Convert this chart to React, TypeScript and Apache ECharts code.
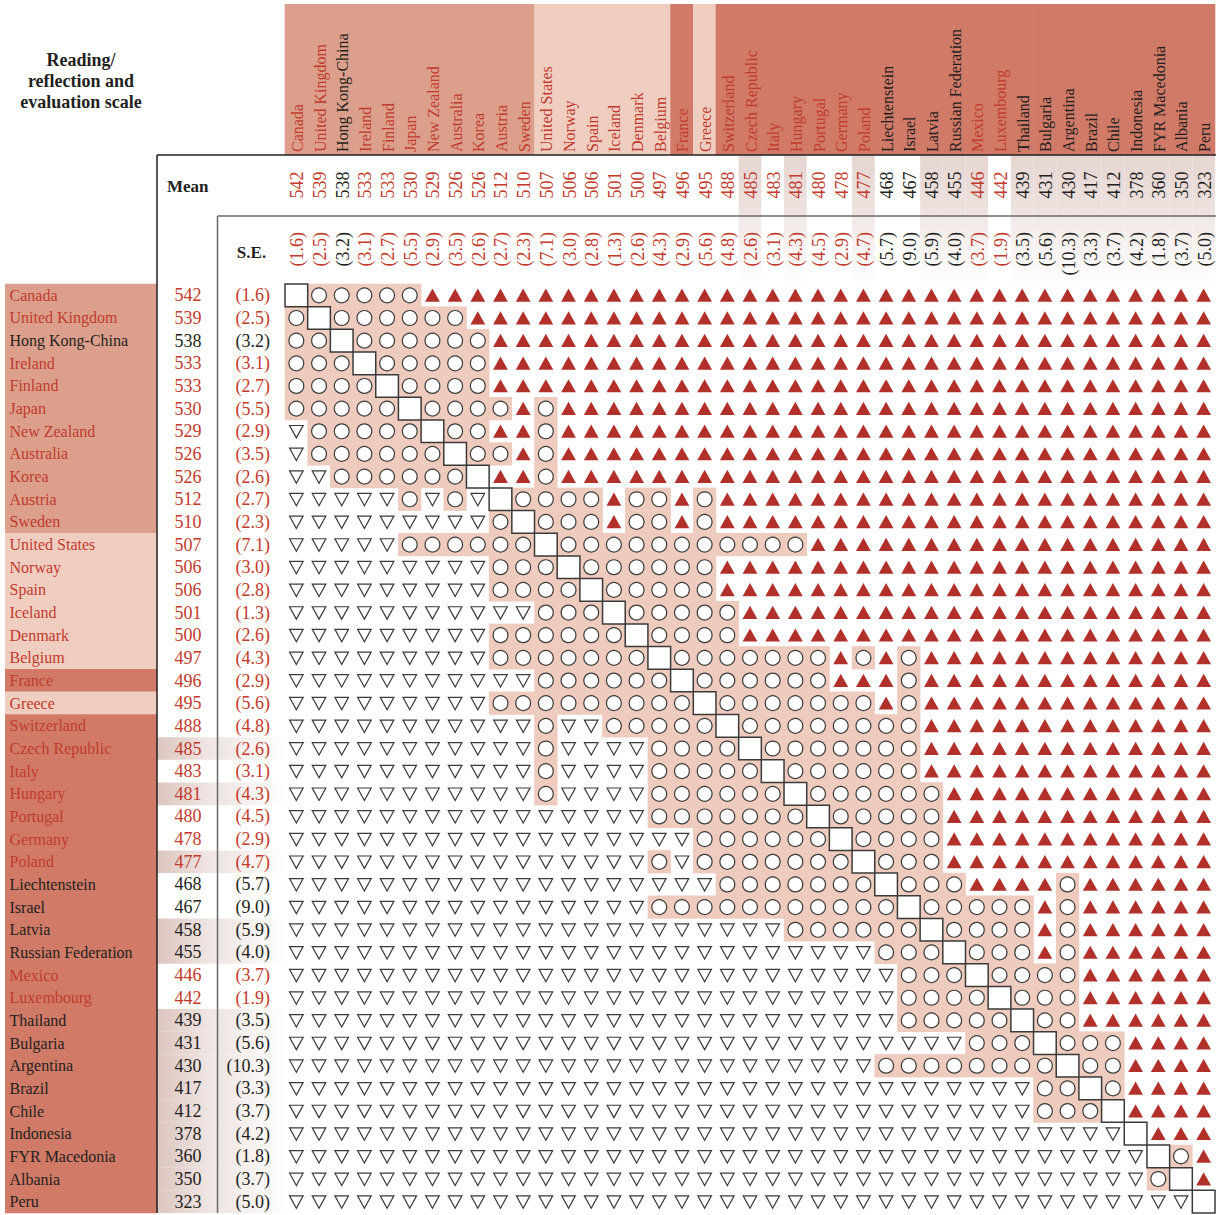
import React, { useEffect, useRef } from "react";
import * as echarts from "echarts";

const countries = [
  "Canada", "United Kingdom", "Hong Kong-China", "Ireland", "Finland", "Japan", "New Zealand",
  "Australia", "Korea", "Austria", "Sweden", "United States", "Norway", "Spain", "Iceland",
  "Denmark", "Belgium", "France", "Greece", "Switzerland", "Czech Republic", "Italy", "Hungary",
  "Portugal", "Germany", "Poland", "Liechtenstein", "Israel", "Latvia", "Russian Federation",
  "Mexico", "Luxembourg", "Thailand", "Bulgaria", "Argentina", "Brazil", "Chile", "Indonesia",
  "FYR Macedonia", "Albania", "Peru",
];

const meanScores = [
  542, 539, 538, 533, 533, 530, 529, 526, 526, 512, 510, 507, 506, 506, 501, 500, 497, 496, 495,
  488, 485, 483, 481, 480, 478, 477, 468, 467, 458, 455, 446, 442, 439, 431, 430, 417, 412, 378,
  360, 350, 323,
];

const standardErrors = [
  1.6, 2.5, 3.2, 3.1, 2.7, 5.5, 2.9, 3.5, 2.6, 2.7, 2.3, 7.1, 3.0, 2.8, 1.3, 2.6, 4.3, 2.9, 5.6,
  4.8, 2.6, 3.1, 4.3, 4.5, 2.9, 4.7, 5.7, 9.0, 5.9, 4.0, 3.7, 1.9, 3.5, 5.6, 10.3, 3.3, 3.7, 4.2,
  1.8, 3.7, 5.0,
];

const nonOecdCountries = [
  "Hong Kong-China", "Liechtenstein", "Israel", "Latvia", "Russian Federation", "Thailand",
  "Bulgaria", "Argentina", "Brazil", "Chile", "Indonesia", "FYR Macedonia", "Albania", "Peru",
];

const aboveOecdAverage = [
  "Canada", "United Kingdom", "Hong Kong-China", "Ireland", "Finland", "Japan", "New Zealand",
  "Australia", "Korea", "Austria", "Sweden",
];

const atOecdAverage = ["United States", "Norway", "Spain", "Iceland", "Denmark", "Belgium", "Greece"];

const shadedRows = [
  "Czech Republic", "Hungary", "Poland", "Latvia", "Russian Federation", "Thailand", "Bulgaria",
  "Argentina", "Brazil", "Chile", "Indonesia", "FYR Macedonia", "Albania", "Peru",
];

const shadedColumns = [
  "Czech Republic", "Hungary", "Poland", "Latvia", "Russian Federation", "Mexico", "Thailand",
  "Bulgaria", "Argentina", "Brazil", "Chile", "Indonesia", "FYR Macedonia", "Albania", "Peru",
];

// v = significantly lower, o = no significant difference, ^ = significantly higher, x = same country
const comparisonRows = [
  "xoooo o^^^^ ^^^^^ ^^^^^ ^^^^^ ^^^^^ ^^^^^ ^^^^^ ^",
  "oxooo ooo^^ ^^^^^ ^^^^^ ^^^^^ ^^^^^ ^^^^^ ^^^^^ ^",
  "ooxoo oooo^ ^^^^^ ^^^^^ ^^^^^ ^^^^^ ^^^^^ ^^^^^ ^",
  "oooxo oooo^ ^^^^^ ^^^^^ ^^^^^ ^^^^^ ^^^^^ ^^^^^ ^",
  "oooox oooo^ ^^^^^ ^^^^^ ^^^^^ ^^^^^ ^^^^^ ^^^^^ ^",
  "ooooo xoooo ^o^^^ ^^^^^ ^^^^^ ^^^^^ ^^^^^ ^^^^^ ^",
  "voooo oxoo^ ^o^^^ ^^^^^ ^^^^^ ^^^^^ ^^^^^ ^^^^^ ^",
  "voooo ooxoo ^o^^^ ^^^^^ ^^^^^ ^^^^^ ^^^^^ ^^^^^ ^",
  "vvooo ooox^ ^o^^^ ^^^^^ ^^^^^ ^^^^^ ^^^^^ ^^^^^ ^",
  "vvvvv ovovx oooo^ oo^o^ ^^^^^ ^^^^^ ^^^^^ ^^^^^ ^",
  "vvvvv vvvvo xooo^ oo^o^ ^^^^^ ^^^^^ ^^^^^ ^^^^^ ^",
  "vvvvv ooooo oxooo ooooo ooo^^ ^^^^^ ^^^^^ ^^^^^ ^",
  "vvvvv vvvvo ooxoo oooo^ ^^^^^ ^^^^^ ^^^^^ ^^^^^ ^",
  "vvvvv vvvvo oooxo oooo^ ^^^^^ ^^^^^ ^^^^^ ^^^^^ ^",
  "vvvvv vvvvv vooox ooooo ^^^^^ ^^^^^ ^^^^^ ^^^^^ ^",
  "vvvvv vvvvo ooooo xoooo ^^^^^ ^^^^^ ^^^^^ ^^^^^ ^",
  "vvvvv vvvvo ooooo oxooo oooo^ o^o^^ ^^^^^ ^^^^^ ^",
  "vvvvv vvvvv voooo ooxoo oooo^ ^^o^^ ^^^^^ ^^^^^ ^",
  "vvvvv vvvvo ooooo oooxo ooooo o^o^^ ^^^^^ ^^^^^ ^",
  "vvvvv vvvvv vovvo oooox ooooo ooo^^ ^^^^^ ^^^^^ ^",
  "vvvvv vvvvv vovvv voooo xoooo ooo^^ ^^^^^ ^^^^^ ^",
  "vvvvv vvvvv vovvv voooo oxooo ooo^^ ^^^^^ ^^^^^ ^",
  "vvvvv vvvvv vovvv voooo ooxoo oooo^ ^^^^^ ^^^^^ ^",
  "vvvvv vvvvv vvvvv voooo oooxo oooo^ ^^^^^ ^^^^^ ^",
  "vvvvv vvvvv vvvvv vvvoo oooox oooo^ ^^^^^ ^^^^^ ^",
  "vvvvv vvvvv vvvvv vovoo ooooo xooo^ ^^^^^ ^^^^^ ^",
  "vvvvv vvvvv vvvvv vvvvo ooooo oxooo ^^^^o ^^^^^ ^",
  "vvvvv vvvvv vvvvv voooo ooooo ooxoo ooo^o ^^^^^ ^",
  "vvvvv vvvvv vvvvv vvvvv vvooo oooxo ooo^o ^^^^^ ^",
  "vvvvv vvvvv vvvvv vvvvv vvvvv vooox ooo^o ^^^^^ ^",
  "vvvvv vvvvv vvvvv vvvvv vvvvv vvooo xoooo ^^^^^ ^",
  "vvvvv vvvvv vvvvv vvvvv vvvvv vvooo oxooo ^^^^^ ^",
  "vvvvv vvvvv vvvvv vvvvv vvvvv vvooo ooxoo ^^^^^ ^",
  "vvvvv vvvvv vvvvv vvvvv vvvvv vvvvv oooxo oo^^^ ^",
  "vvvvv vvvvv vvvvv vvvvv vvvvv voooo oooox oo^^^ ^",
  "vvvvv vvvvv vvvvv vvvvv vvvvv vvvvv vvvoo xo^^^ ^",
  "vvvvv vvvvv vvvvv vvvvv vvvvv vvvvv vvvoo ox^^^ ^",
  "vvvvv vvvvv vvvvv vvvvv vvvvv vvvvv vvvvv vvx^^ ^",
  "vvvvv vvvvv vvvvv vvvvv vvvvv vvvvv vvvvv vvvxo ^",
  "vvvvv vvvvv vvvvv vvvvv vvvvv vvvvv vvvvv vvvox ^",
  "vvvvv vvvvv vvvvv vvvvv vvvvv vvvvv vvvvv vvvvv x",
];

const FONT = '"Liberation Serif", "Times New Roman", serif';
const RED_TEXT = "#c23a2c";
const DARK_TEXT = "#231f20";
const BAND_ABOVE = "#dc9f8c";
const BAND_AT = "#efcdc0";
const BAND_BELOW = "#d07a67";
const CELL_PINK = "#efcbbe";
const TRI_RED = "#b1302a";
const STROKE = "#3a3a3a";

const CODES: Record<string, number> = { v: 0, o: 1, "^": 2, x: 3 };

function bandColor(name: string) {
  if (aboveOecdAverage.includes(name)) return BAND_ABOVE;
  if (atOecdAverage.includes(name)) return BAND_AT;
  return BAND_BELOW;
}
function textColor(name: string) {
  return nonOecdCountries.includes(name) ? DARK_TEXT : RED_TEXT;
}

function txt(x: number, y: number, text: string, fill: string, size: number, align: string, rotation = 0, weight = "normal") {
  return {
    type: "text",
    x,
    y,
    rotation,
    style: {
      text,
      fill,
      font: `${weight} ${size}px ${FONT}`,
      align,
      textAlign: align,
      verticalAlign: "middle",
      textVerticalAlign: "middle",
    },
  };
}

export default function App() {
  const ref = useRef<HTMLDivElement>(null);

  useEffect(() => {
    if (!ref.current) return;
    const chart = echarts.init(ref.current, null, { renderer: "svg" });

    const cellData: number[][] = [];
    comparisonRows.forEach((row, i) => {
      const s = row.replace(/ /g, "");
      for (let j = 0; j < s.length; j++) cellData.push([j, i, CODES[s[j]]]);
    });

    const meanGradH = () =>
      new echarts.graphic.LinearGradient(0, 0, 1, 0, [
        { offset: 0, color: "#dcc5bf" },
        { offset: 1, color: "#f3ebe9" },
      ]);
    const seGradH = () =>
      new echarts.graphic.LinearGradient(0, 0, 1, 0, [
        { offset: 0, color: "#efe5e2" },
        { offset: 1, color: "#ffffff" },
      ]);
    const meanGradV = () =>
      new echarts.graphic.LinearGradient(0, 0, 0, 1, [
        { offset: 0, color: "#e6d5d1" },
        { offset: 1, color: "#eee3e0" },
      ]);
    const seGradV = () =>
      new echarts.graphic.LinearGradient(0, 0, 0, 1, [
        { offset: 0, color: "#f1e8e6" },
        { offset: 1, color: "#ffffff" },
      ]);

    const option: any = {
      animation: false,
      grid: [{ left: 285, top: 284, width: 930, height: 929, containLabel: false }],
      xAxis: [{ type: "category", data: countries, show: false, boundaryGap: true }],
      yAxis: [{ type: "category", data: countries, inverse: true, show: false, boundaryGap: true }],
      series: [
        {
          type: "custom",
          name: "rowHeaders",
          coordinateSystem: "cartesian2d",
          silent: true,
          clip: false,
          z: 1,
          data: countries.map((_, i) => [0, i]),
          renderItem: (_params: any, api: any) => {
            const i = api.value(1) as number;
            const name = countries[i];
            const cy = api.coord([0, i])[1];
            const h = api.size([1, 1])[1];
            const col = textColor(name);
            const children: any[] = [
              { type: "rect", shape: { x: 5, y: cy - h / 2 - 0.3, width: 152, height: h + 0.6 }, style: { fill: bandColor(name) } },
            ];
            if (shadedRows.includes(name)) {
              children.push({ type: "rect", shape: { x: 157, y: cy - h / 2, width: 61, height: h }, style: { fill: meanGradH() } });
              children.push({ type: "rect", shape: { x: 218, y: cy - h / 2, width: 67, height: h }, style: { fill: seGradH() } });
            }
            children.push(txt(9.5, cy, name, col, 16, "left"));
            children.push(txt(188, cy, String(meanScores[i]), col, 18, "center"));
            children.push(txt(270, cy, `(${standardErrors[i].toFixed(1)})`, col, 18, "right"));
            return { type: "group", children };
          },
        },
        {
          type: "custom",
          name: "columnHeaders",
          coordinateSystem: "cartesian2d",
          silent: true,
          clip: false,
          z: 1,
          data: countries.map((_, j) => [j, 0]),
          renderItem: (_params: any, api: any) => {
            const j = api.value(0) as number;
            const name = countries[j];
            const cx = api.coord([j, 0])[0];
            const w = api.size([1, 1])[0];
            const col = textColor(name);
            const children: any[] = [
              { type: "rect", shape: { x: cx - w / 2 - 0.3, y: 4, width: w + 0.6, height: 151 }, style: { fill: bandColor(name) } },
            ];
            if (shadedColumns.includes(name)) {
              children.push({ type: "rect", shape: { x: cx - w / 2, y: 155, width: w, height: 61 }, style: { fill: meanGradV() } });
              children.push({ type: "rect", shape: { x: cx - w / 2, y: 216, width: w, height: 68 }, style: { fill: seGradV() } });
            }
            children.push(txt(cx + 1, 152, name, col, 16, "left", Math.PI / 2));
            children.push(txt(cx + 1, 185, String(meanScores[j]), col, 18, "center", Math.PI / 2));
            children.push(txt(cx + 1, 232, `(${standardErrors[j].toFixed(1)})`, col, 18, "right", Math.PI / 2));
            return { type: "group", children };
          },
        },
        {
          type: "custom",
          name: "noDifferenceShading",
          coordinateSystem: "cartesian2d",
          silent: true,
          z: 2,
          data: cellData,
          renderItem: (_params: any, api: any) => {
            const code = api.value(2);
            if (code !== 1) return { type: "group", children: [] };
            const p = api.coord([api.value(0), api.value(1)]);
            const s = api.size([1, 1]);
            return {
              type: "rect",
              shape: { x: p[0] - s[0] / 2 - 0.3, y: p[1] - s[1] / 2 - 0.3, width: s[0] + 0.6, height: s[1] + 0.6 },
              style: { fill: CELL_PINK },
            };
          },
        },
        {
          type: "custom",
          name: "comparisons",
          coordinateSystem: "cartesian2d",
          silent: true,
          z: 3,
          data: cellData,
          renderItem: (_params: any, api: any) => {
            const code = api.value(2);
            const p = api.coord([api.value(0), api.value(1)]);
            const s = api.size([1, 1]);
            const x = p[0];
            const y = p[1];
            if (code === 0) {
              return {
                type: "polygon",
                shape: { points: [[x - 6.8, y - 5.8], [x + 6.8, y - 5.8], [x, y + 6.6]] },
                style: { fill: "#ffffff", stroke: STROKE, lineWidth: 1.2 },
              };
            }
            if (code === 1) {
              return { type: "circle", shape: { cx: x, cy: y, r: 7.4 }, style: { fill: "#ffffff", stroke: STROKE, lineWidth: 1.2 } };
            }
            if (code === 2) {
              return {
                type: "polygon",
                shape: { points: [[x, y - 6.8], [x + 7.4, y + 6.4], [x - 7.4, y + 6.4]] },
                style: { fill: TRI_RED },
              };
            }
            return {
              type: "rect",
              shape: { x: x - s[0] / 2, y: y - s[1] / 2, width: s[0], height: s[1] },
              style: { fill: "#ffffff", stroke: STROKE, lineWidth: 1.5 },
            };
          },
        },
      ],
      graphic: {
        elements: [
          {
            type: "text",
            x: 81,
            y: 81,
            z: 100,
            style: {
              text: "Reading/\nreflection and\nevaluation scale",
              fill: DARK_TEXT,
              font: `bold 18px ${FONT}`,
              lineHeight: 21,
              align: "center",
              textAlign: "center",
              verticalAlign: "middle",
              textVerticalAlign: "middle",
            },
          },
          {
            type: "text",
            x: 167,
            y: 186,
            z: 100,
            style: { text: "Mean", fill: DARK_TEXT, font: `bold 17px ${FONT}`, align: "left", textAlign: "left", verticalAlign: "middle", textVerticalAlign: "middle" },
          },
          {
            type: "text",
            x: 251.5,
            y: 252,
            z: 100,
            style: { text: "S.E.", fill: DARK_TEXT, font: `bold 17px ${FONT}`, align: "center", textAlign: "center", verticalAlign: "middle", textVerticalAlign: "middle" },
          },
          { type: "line", z: 100, shape: { x1: 157, y1: 155, x2: 1216, y2: 155 }, style: { stroke: "#231f20", lineWidth: 1.5 } },
          { type: "line", z: 100, shape: { x1: 157, y1: 155, x2: 157, y2: 1213 }, style: { stroke: "#231f20", lineWidth: 1.5 } },
          { type: "line", z: 100, shape: { x1: 217.5, y1: 216, x2: 1216, y2: 216 }, style: { stroke: "#6a6a6a", lineWidth: 1.5 } },
          { type: "line", z: 100, shape: { x1: 217.5, y1: 216, x2: 217.5, y2: 1213 }, style: { stroke: "#6a6a6a", lineWidth: 1.5 } },
        ],
      },
    };

    chart.setOption(option);
    return () => chart.dispose();
  }, []);

  return <div ref={ref} style={{ position: "absolute", left: 0, top: 0, width: 1220, height: 1215 }} />;
}
